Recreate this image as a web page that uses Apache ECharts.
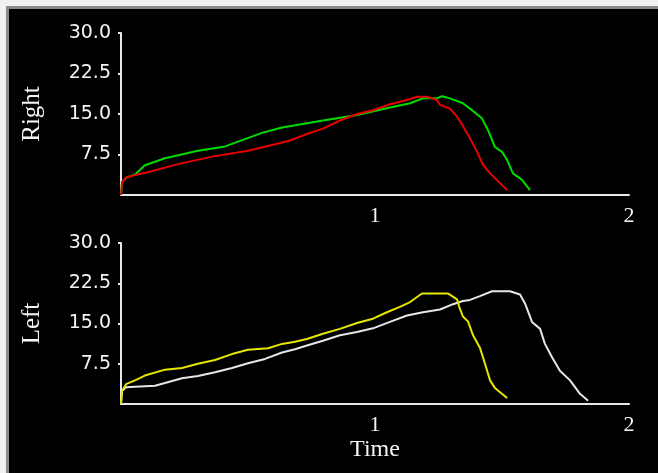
<!DOCTYPE html>
<html>
<head>
<meta charset="utf-8">
<script src="https://cdn.jsdelivr.net/npm/echarts@6/dist/echarts.min.js"></script>
<style>
  html, body { margin: 0; padding: 0; }
  #frame { position: absolute; left: 0; top: 0; width: 658px; height: 473px; background: #f0f0f0; }
  #edge { position: absolute; left: 6px; top: 6px; width: 652px; height: 467px; background: #8a8a8a; }
  #main { position: absolute; left: 9px; top: 9px; width: 649px; height: 464px; }
</style>
</head>
<body>
<div id="frame"><div id="edge"></div><div id="main"></div></div>
<script>
// top panel (Right)
var redT = [0, 0.004, 0.02, 0.055, 0.106, 0.24, 0.37, 0.5, 0.606, 0.665, 0.732, 0.795, 0.862, 0.929, 0.992, 1.059, 1.126, 1.165, 1.205, 1.244, 1.256, 1.295, 1.323, 1.346, 1.374, 1.402, 1.425, 1.453, 1.492, 1.52];
var redV = [0, 2.4, 3.2, 3.7, 4.2, 5.9, 7.2, 8.2, 9.4, 10.1, 11.3, 12.3, 13.8, 15.0, 15.7, 16.8, 17.6, 18.2, 18.2, 17.6, 16.7, 16.0, 14.5, 12.8, 10.5, 8.0, 5.6, 4.0, 2.2, 0.9];
var greenT = [0, 0.004, 0.02, 0.055, 0.094, 0.173, 0.303, 0.41, 0.48, 0.555, 0.634, 0.795, 0.929, 1.059, 1.138, 1.189, 1.244, 1.264, 1.295, 1.346, 1.374, 1.421, 1.445, 1.472, 1.5, 1.52, 1.543, 1.579, 1.61];
var greenV = [0, 2.4, 3.2, 3.8, 5.5, 6.8, 8.2, 9.0, 10.2, 11.5, 12.5, 13.8, 14.8, 16.2, 17.0, 17.9, 17.9, 18.3, 17.9, 17.0, 16.0, 14.2, 12.0, 8.9, 8.0, 6.5, 4.0, 2.8, 0.9];

// bottom panel (Left)
var yellowT = [0, 0.004, 0.02, 0.055, 0.094, 0.173, 0.24, 0.303, 0.37, 0.437, 0.5, 0.579, 0.634, 0.685, 0.732, 0.795, 0.862, 0.929, 0.992, 1.047, 1.098, 1.138, 1.185, 1.287, 1.323, 1.331, 1.346, 1.366, 1.386, 1.413, 1.433, 1.453, 1.472, 1.52];
var yellowV = [0, 2.4, 3.7, 4.4, 5.3, 6.4, 6.7, 7.5, 8.2, 9.3, 10.1, 10.4, 11.2, 11.6, 12.1, 13.1, 14.0, 15.1, 15.9, 17.1, 18.1, 19.0, 20.6, 20.6, 19.5, 18.2, 16.3, 15.4, 12.8, 10.5, 7.5, 4.4, 3.0, 1.1];
var whiteT = [0, 0.004, 0.02, 0.055, 0.134, 0.173, 0.24, 0.303, 0.37, 0.437, 0.5, 0.567, 0.634, 0.685, 0.732, 0.795, 0.862, 0.929, 0.992, 1.059, 1.126, 1.189, 1.256, 1.307, 1.346, 1.374, 1.413, 1.461, 1.531, 1.571, 1.591, 1.618, 1.65, 1.669, 1.697, 1.728, 1.768, 1.807, 1.839];
var whiteV = [0, 2.4, 3.1, 3.2, 3.4, 3.9, 4.8, 5.2, 5.9, 6.7, 7.6, 8.4, 9.6, 10.2, 10.9, 11.8, 12.8, 13.4, 14.1, 15.3, 16.5, 17.1, 17.6, 18.6, 19.2, 19.4, 20.1, 21.0, 21.0, 20.4, 18.7, 15.3, 14.0, 11.2, 8.7, 6.2, 4.4, 1.9, 0.6];

var yTicks = ['7.5', '15.0', '22.5', '30.0'];
var xTicks = ['1', '2'];

function pairs(t, v) {
    var out = [];
    for (var i = 0; i < t.length; i++) out.push([t[i], v[i]]);
    return out;
}

var axisColor = '#e8e8e8';
var serif = '"Liberation Serif", "DejaVu Serif", serif';

function xAxisFor(idx, name) {
    return {
        type: 'value', gridIndex: idx, min: 0, max: 2, interval: 1,
        name: name, nameLocation: 'middle', nameGap: 34,
        nameTextStyle: { color: '#f4f4f4', fontFamily: serif, fontSize: 24 },
        axisLine: { lineStyle: { color: axisColor, width: 2 } },
        axisTick: { show: false },
        splitLine: { show: false },
        axisLabel: {
            color: '#f4f4f4', fontFamily: serif, fontSize: 22, margin: 10,
            showMinLabel: false,
            formatter: function (v) { return xTicks[v - 1] || ''; }
        }
    };
}

function yAxisFor(idx, name) {
    return {
        type: 'value', gridIndex: idx, min: 0, max: 30, interval: 7.5,
        name: name, nameLocation: 'middle', nameGap: 76, nameRotate: 90,
        nameTextStyle: { color: '#f4f4f4', fontFamily: serif, fontSize: 25 },
        axisLine: { show: true, lineStyle: { color: axisColor, width: 2 } },
        axisTick: { show: true, length: 3, lineStyle: { color: axisColor, width: 2 } },
        splitLine: { show: false },
        axisLabel: {
            color: '#f4f4f4', fontFamily: '"DejaVu Sans", sans-serif', fontSize: 19, margin: 10,
            showMinLabel: false,
            formatter: function (v) { return yTicks[Math.round(v / 7.5) - 1] || ''; }
        }
    };
}

function line(name, xi, data, color) {
    return {
        name: name, type: 'line', xAxisIndex: xi, yAxisIndex: xi,
        data: data, showSymbol: false, animation: false,
        lineStyle: { color: color, width: 2 }
    };
}

var chart = echarts.init(document.getElementById('main'));
chart.setOption({
    backgroundColor: '#000000',
    animation: false,
    grid: [
        { left: 112, top: 24, width: 508, height: 162 },
        { left: 112, top: 234, width: 508, height: 161 }
    ],
    xAxis: [xAxisFor(0, ''), xAxisFor(1, 'Time')],
    yAxis: [yAxisFor(0, 'Right'), yAxisFor(1, 'Left')],
    series: [
        line('green', 0, pairs(greenT, greenV), '#00dc00'),
        line('red', 0, pairs(redT, redV), '#e80000'),
        line('white', 1, pairs(whiteT, whiteV), '#e6e6e6'),
        line('yellow', 1, pairs(yellowT, yellowV), '#e6e600')
    ]
});
</script>
</body>
</html>
